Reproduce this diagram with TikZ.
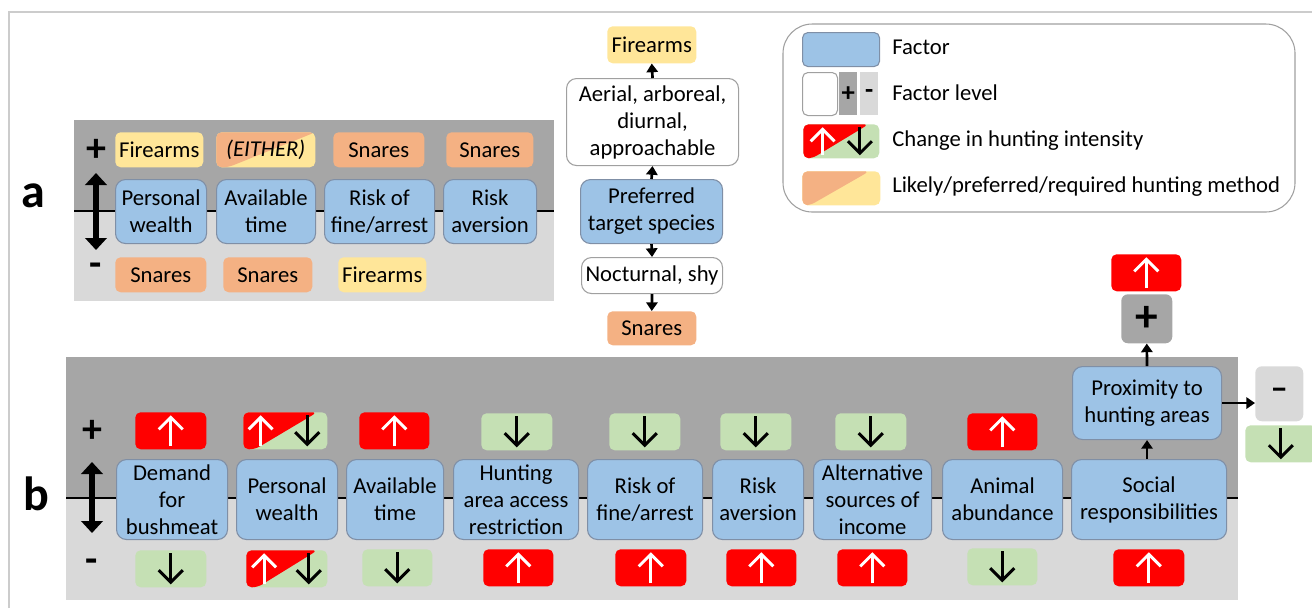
\documentclass[tikz,border=0pt]{standalone}
\usepackage{fontspec}
\setmainfont{Carlito}
\usetikzlibrary{arrows.meta,calc}
\definecolor{fblue}{HTML}{9DC3E6}
\definecolor{fbord}{HTML}{7F8FA6}
\definecolor{dg}{HTML}{A6A6A6}
\definecolor{lg}{HTML}{D9D9D9}
\definecolor{cred}{HTML}{FF0000}
\definecolor{cgreen}{HTML}{C5E0B4}
\definecolor{corange}{HTML}{F4B183}
\definecolor{cyellow}{HTML}{FFE699}
\definecolor{wbord}{HTML}{A0A0A0}
\newcommand\B[7]{\node[#1,anchor=north west,inner sep=0pt,minimum width={(#4-#2)*0.75pt},minimum height={(#5-#3)*0.75pt}] (#6) at (#2,#3) {#7};}
\newcommand\UpA[3]{%
 \draw[#2,arrline] ([xshift=#3,yshift=2.5pt]#1.south) -- ([xshift=#3,yshift=-4pt]#1.north);
 \draw[#2,arrline] ([xshift=#3-9pt,yshift=-13pt]#1.north) -- ([xshift=#3,yshift=-4pt]#1.north) -- ([xshift=#3+9pt,yshift=-13pt]#1.north);}
\newcommand\DnA[3]{%
 \draw[#2,arrline] ([xshift=#3,yshift=-2.5pt]#1.north) -- ([xshift=#3,yshift=4pt]#1.south);
 \draw[#2,arrline] ([xshift=#3-9pt,yshift=13pt]#1.south) -- ([xshift=#3,yshift=4pt]#1.south) -- ([xshift=#3+9pt,yshift=13pt]#1.south);}
\tikzset{
 txt/.style={font=\fontsize{17}{20.25}\selectfont, align=center},
 factor/.style={txt, fill=fblue, draw=fbord, line width=0.8pt, rounded corners=7.5pt},
 wbox/.style={txt, fill=white, draw=wbord, line width=0.8pt, rounded corners=7.5pt},
 snare/.style={txt, fill=corange, rounded corners=4pt},
 firearm/.style={txt, fill=cyellow, rounded corners=4pt},
 upbox/.style={fill=cred, rounded corners=4pt},
 dnbox/.style={fill=cgreen, rounded corners=4pt},
 diag/.style n args={4}{fill=#2, rounded corners=4pt, path picture={
   \fill[#1] (path picture bounding box.north west)
   -- ($(path picture bounding box.north west)!#3!(path picture bounding box.north east)$)
   -- ($(path picture bounding box.south west)!#4!(path picture bounding box.south east)$)
   -- (path picture bounding box.south west) -- cycle;}},
 arrline/.style={line width=2.2pt, line join=miter},
 conn/.style={draw=black, line width=2pt, -{Triangle[length=6.5pt,width=8.5pt]}},
 dbl/.style={line width=4pt, {Triangle[length=9pt,width=16pt]}-{Triangle[length=9pt,width=16pt]}},
 pm/.style={font=\fontsize{30}{30}\selectfont\bfseries, inner sep=0pt},
 pms/.style={font=\fontsize{20}{20}\selectfont\bfseries, inner sep=0pt},
 lab/.style={font=\fontsize{36}{36}\selectfont\bfseries, inner sep=0pt},
 legtxt/.style={font=\fontsize{17}{20}\selectfont, anchor=west, inner sep=0pt},
}
\begin{document}
\begin{tikzpicture}[x=0.75pt,y=-0.75pt]
\useasboundingbox (0,0) rectangle (1312,608);
% frame
\draw[draw=black!20, line width=1.2pt] (9,608) -- (9,12) -- (1312,12);
% labels
\node[lab] (la) at (33,196) {a};
\node[lab] (lb) at (36,494) {b};

% ---------- panel a ----------
\fill[dg] (74,120) rectangle (554,211);
\fill[lg] (74,211) rectangle (554,301);
\draw[line width=1.2pt] (74,211) -- (554,211);
\node[pm] (pa) at (96,150) {+};
\node[pm] (ma) at (96,270) {-};
\coordinate (da1) at (96,173);
\coordinate (da2) at (96,250);
\draw[dbl] (da1) -- (da2);
\B{firearm}{115}{132}{203}{167}{at1}{Firearms}
\B{txt,diag={corange}{cyellow}{1.0}{0.12}}{216}{132}{315}{167}{at2}{\itshape (EITHER)}
\B{snare}{333}{132}{424}{167}{at3}{Snares}
\B{snare}{446}{132}{533}{167}{at4}{Snares}
\B{factor}{115}{179}{206}{243}{af1}{Personal\\wealth}
\B{factor}{216}{179}{315}{243}{af2}{Available\\time}
\B{factor}{324}{179}{434}{243}{af3}{Risk of\\fine/arrest}
\B{factor}{443}{179}{536}{243}{af4}{Risk\\aversion}
\B{snare}{115}{257}{206}{292}{ab1}{Snares}
\B{snare}{223}{257}{312}{292}{ab2}{Snares}
\B{firearm}{338}{257}{426}{292}{ab3}{Firearms}

% ---------- middle column ----------
\B{firearm}{607}{26}{696}{63}{mf}{Firearms}
\B{wbox}{566}{78}{738}{165}{mae}{Aerial, arboreal,\\diurnal,\\approachable}
\B{factor}{580}{179}{722}{243}{mpt}{Preferred\\target species}
\B{wbox}{581}{257}{722}{293}{mnoc}{Nocturnal, shy}
\B{snare}{607}{311}{696}{345}{ms}{Snares}
\draw[conn] (mpt.north) -- (mae.south);
\draw[conn] (mae.north) -- (mf.south);
\draw[conn] (mpt.south) -- (mnoc.north);
\draw[conn] (mnoc.south) -- (ms.north);

% ---------- legend ----------
\draw[draw=wbord, line width=0.8pt, rounded corners=22pt] (783,24) rectangle (1295,212);
\B{factor,rounded corners=4pt}{802}{32}{879}{66}{lgf}{}
\node[legtxt] (lt1) at (892,47) {Factor};
\B{wbox,rounded corners=4pt}{802}{72}{837}{115}{lgw}{}
\B{fill=dg}{839}{72}{857}{115}{lgp}{}
\B{fill=lg}{860}{72}{878}{115}{lgm}{}
\node[pms] at (lgp) {+};
\node[pms] at (lgm) {-};
\node[legtxt] (lt2) at (892,93) {Factor level};
\B{diag={cred}{cgreen}{0.86}{0.12}}{803}{124}{879}{158}{lgc}{}
\UpA{lgc}{white}{-14pt}
\DnA{lgc}{black}{14pt}
\node[legtxt] (lt3) at (892,141) {Change in hunting intensity};
\B{diag={corange}{cyellow}{0.86}{0.1}}{802}{171}{880}{205}{lgm2}{}
\node[legtxt] (lt4) at (892,187) {Likely/preferred/required hunting method};

% ---------- panel b ----------
\fill[dg] (66,357) rectangle (1238,498);
\fill[lg] (66,498) rectangle (1238,600);
\draw[line width=1.2pt] (66,498) -- (1238,498);
\node[pm] (pb) at (92,431) {+};
\node[pm] (mb) at (92,566) {-};
\coordinate (db1) at (92,462);
\coordinate (db2) at (92,533);
\draw[dbl] (db1) -- (db2);

\B{factor}{116}{459}{227}{539}{f1}{Demand\\for\\bushmeat}
\B{factor}{236}{459}{337}{539}{f2}{Personal\\wealth}
\B{factor}{346}{459}{443}{539}{f3}{Available\\time}
\B{factor}{453}{459}{578}{539}{f4}{Hunting\\area access\\restriction}
\B{factor}{587}{459}{702}{539}{f5}{Risk of\\fine/arrest}
\B{factor}{712}{459}{803}{539}{f6}{Risk\\aversion}
\B{factor}{813}{459}{931}{539}{f7}{Alternative\\sources of\\income}
\B{factor}{942}{459}{1062}{539}{f8}{Animal\\abundance}
\B{factor}{1071}{459}{1226}{539}{f9}{Social\\responsibilities}
\B{factor}{1072}{366}{1221}{439}{prox}{Proximity to\\hunting areas}

% top row changes
\B{upbox}{135}{412}{206}{449}{t1}{}\UpA{t1}{white}{0pt}
\B{diag={cred}{cgreen}{0.88}{0.14}}{243}{412}{327}{449}{t2}{}\UpA{t2}{white}{-18.5pt}\DnA{t2}{black}{16.5pt}
\B{upbox}{359}{412}{429}{449}{t3}{}\UpA{t3}{white}{0pt}
\B{dnbox}{481}{413}{552}{450}{t4}{}\DnA{t4}{black}{0pt}
\B{dnbox}{609}{413}{680}{450}{t5}{}\DnA{t5}{black}{0pt}
\B{dnbox}{720}{413}{791}{450}{t6}{}\DnA{t6}{black}{0pt}
\B{dnbox}{835}{413}{906}{450}{t7}{}\DnA{t7}{black}{0pt}
\B{upbox}{967}{413}{1037}{450}{t8}{}\UpA{t8}{white}{0pt}
% bottom row changes
\B{dnbox}{135}{550}{206}{587}{b1}{}\DnA{b1}{black}{0pt}
\B{diag={cred}{cgreen}{0.88}{0.14}}{246}{550}{327}{587}{b2}{}\UpA{b2}{white}{-17pt}\DnA{b2}{black}{16.5pt}
\B{dnbox}{362}{549}{432}{586}{b3}{}\DnA{b3}{black}{0pt}
\B{upbox}{483}{549}{553}{586}{b4}{}\UpA{b4}{white}{0pt}
\B{upbox}{615}{549}{686}{586}{b5}{}\UpA{b5}{white}{0pt}
\B{upbox}{726}{549}{796}{586}{b6}{}\UpA{b6}{white}{0pt}
\B{upbox}{837}{549}{907}{586}{b7}{}\UpA{b7}{white}{0pt}
\B{dnbox}{967}{548}{1037}{585}{b8}{}\DnA{b8}{black}{0pt}
\B{upbox}{1113}{549}{1184}{586}{b9}{}\UpA{b9}{white}{0pt}

% proximity group
\B{fill=dg,rounded corners=5pt}{1121}{294}{1172}{343}{pplus}{}
\node[pm,font=\fontsize{34}{34}\selectfont\bfseries] (pplust) at (pplus) {+};
\B{upbox}{1111}{254}{1181}{291}{pup}{}\UpA{pup}{white}{0pt}
\B{fill=lg,rounded corners=5pt}{1255}{366}{1303}{421}{pminus}{}
\node[pm,font=\fontsize{26}{26}\selectfont\bfseries] (pminust) at (pminus) {–};
\B{dnbox}{1245}{425}{1316}{462}{pdn}{}\DnA{pdn}{black}{0pt}
\draw[conn] (f9.north -| prox.south) -- (prox.south);
\draw[conn] (prox.north) -- (pplus.south);
\draw[conn] (prox.east) -- (prox.east -| pminus.west);
\end{tikzpicture}
\end{document}
